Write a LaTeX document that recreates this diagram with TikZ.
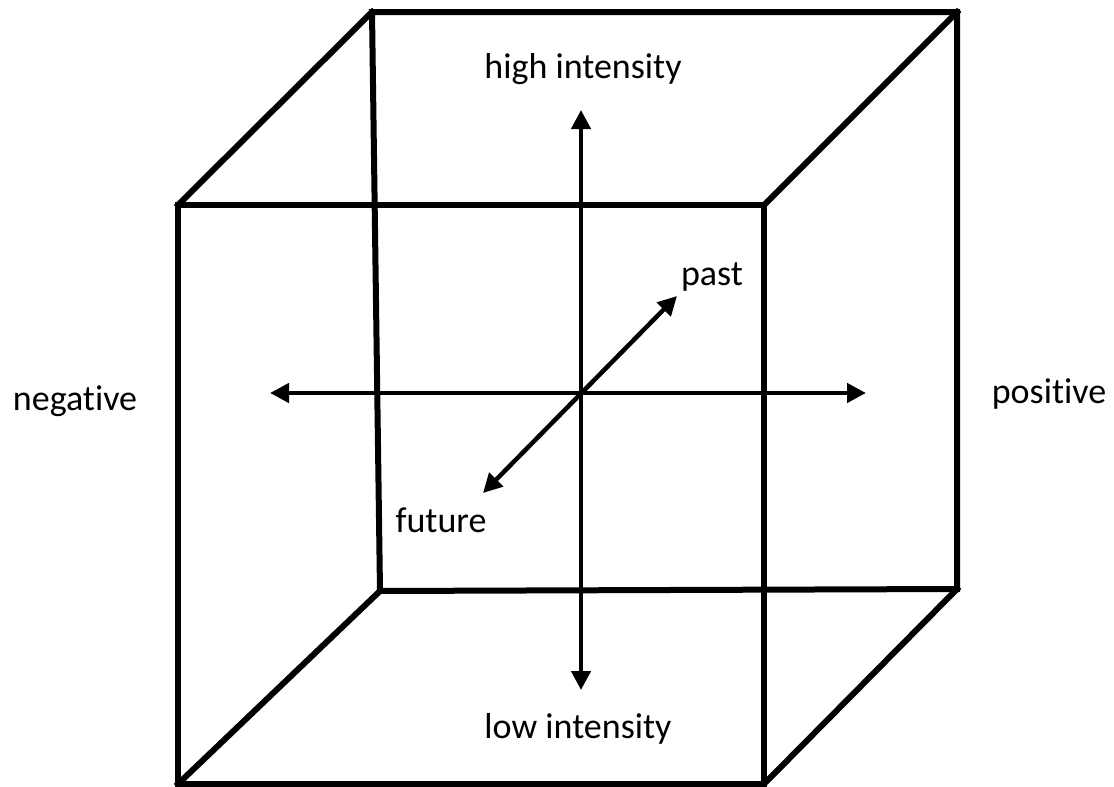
\documentclass[tikz,border=0pt]{standalone}
\usepackage{fontspec}
\setmainfont{Carlito}[Ligatures={NoCommon}]
\usetikzlibrary{arrows.meta}
\tikzset{
  edge/.style={line width=6pt, line join=miter, line cap=rect},
  axis/.style={line width=4.5pt, {Triangle[length=19pt,width=19pt]}-{Triangle[length=19pt,width=19pt]}},
  lbl/.style={anchor=base, inner sep=0pt, font=\fontsize{36}{40}\selectfont}
}
\begin{document}
\begin{tikzpicture}[x=1pt, y=-1pt]
\useasboundingbox (0,0) rectangle (1114,787);
% front square
\coordinate (ftl) at (178,205);
\coordinate (ftr) at (764,205);
\coordinate (fbl) at (178,784);
\coordinate (fbr) at (764,784);
% back square
\coordinate (btl) at (372,12);
\coordinate (btr) at (957,12);
\coordinate (bbl) at (380,591);
\coordinate (bbr) at (957,589);
\draw[edge] (ftl) -- (ftr) -- (fbr) -- (fbl) -- cycle;
\draw[edge] (btl) -- (btr) -- (bbr) -- (bbl) -- cycle;
\draw[edge] (ftl) -- (btl);
\draw[edge] (ftr) -- (btr);
\draw[edge] (fbl) -- (bbl);
\draw[edge] (fbr) -- (bbr);
% axes
\coordinate (top) at (581,110);
\coordinate (bot) at (581,690);
\coordinate (lft) at (270,393);
\coordinate (rgt) at (866,393);
\coordinate (pst) at (677,296);
\coordinate (fut) at (483,493);
\draw[axis] (bot) -- (top);
\draw[axis] (lft) -- (rgt);
\draw[axis] (fut) -- (pst);
% labels
\node[lbl] (hi) at (583,78) {high intensity};
\node[lbl] (lo) at (578,738) {low intensity};
\node[lbl] (neg) at (75,410) {negative};
\node[lbl] (pos) at (1049,403) {positive};
\node[lbl] (past) at (712,285) {past};
\node[lbl] (future) at (441,532) {future};
\end{tikzpicture}
\end{document}
